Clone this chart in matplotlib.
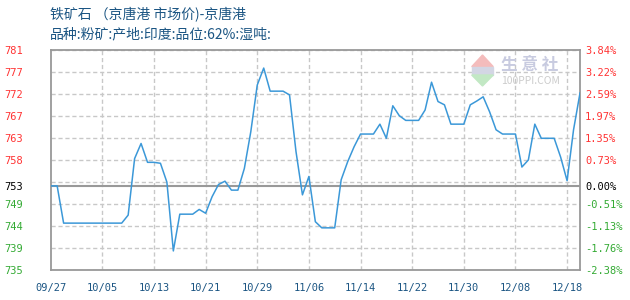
import matplotlib
matplotlib.use('Agg')
import matplotlib.pyplot as plt
import numpy as np
from matplotlib.patches import Polygon, Rectangle

plt.rcParams['font.family'] = ['Noto Sans CJK SC', 'DejaVu Sans']

title = "铁矿石 （京唐港 市场价)-京唐港"
subtitle = "品种:粉矿:产地:印度:品位:62%:湿吨:"

x_labels = ['09/27', '10/05', '10/13', '10/21', '10/29', '11/06',
            '11/14', '11/22', '11/30', '12/08', '12/18']
x_label_step = 8

base_price = 752.5
prices = [
    752.5, 752.5, 744.6, 744.6, 744.6, 744.6, 744.6, 744.6, 744.6, 744.6,   # 0-9
    744.6, 744.6, 746.3, 758.3, 761.5, 757.5, 757.5, 757.3, 753.3, 738.7,   # 10-19
    746.5, 746.5, 746.5, 747.5, 746.7, 750.2, 752.8, 753.5, 751.6, 751.6,   # 20-29
    756.2, 764.0, 773.9, 777.5, 772.6, 772.6, 772.6, 771.8, 759.8, 750.6,   # 30-39
    754.5, 744.9, 743.6, 743.6, 743.6, 753.8, 757.6, 760.8, 763.5, 763.5,   # 40-49
    763.5, 765.6, 762.6, 769.5, 767.4, 766.4, 766.4, 766.4, 768.6, 774.5,   # 50-59
    770.4, 769.7, 765.6, 765.6, 765.6, 769.7, 770.5, 771.4, 768.2, 764.4,   # 60-69
    763.5, 763.5, 763.5, 756.5, 758.0, 765.6, 762.6, 762.6, 762.6, 758.6,   # 70-79
    753.6, 764.4, 772.2                                                     # 80-82
]

left_labels = ['735', '739', '744', '749', '753', '758', '763', '767', '772', '777', '781']
right_labels = ['-2.38%', '-1.76%', '-1.13%', '-0.51%', '0.00%', '0.73%',
                '1.35%', '1.97%', '2.59%', '3.22%', '3.84%']
pct_min, pct_max = -2.38, 3.84

RED = '#ff3333'
GREEN = '#33aa33'
BLUE_TXT = '#1b5583'
LINE = '#3b98d8'
GRID = '#c8c8c8'
SPINE = '#999999'

fig = plt.figure(figsize=(6.3, 3.0), dpi=100)
fig.patch.set_facecolor('white')
ax = fig.add_axes([50.7/630, 1-270.3/300, (580-50.7)/630, (270.3-49.7)/300])

n = len(prices)
x = np.arange(n)
ymin = base_price * (1 + pct_min/100)
ymax = base_price * (1 + pct_max/100)
levels = np.linspace(ymin, ymax, len(left_labels))
tick_pos = levels.copy()
base_idx = right_labels.index('0.00%')
tick_pos[base_idx] = base_price

ax.set_xlim(0, n-1)
ax.set_ylim(ymin, ymax)

# grid
for lv in levels:
    ax.axhline(lv, color=GRID, lw=1, ls=(0, (3, 2)), zorder=1)
xt = np.arange(0, n, x_label_step)[:len(x_labels)]
for xv in xt[1:]:
    ax.axvline(xv, color=GRID, lw=1, ls=(0, (3, 2)), zorder=1)
ax.axhline(base_price, color=SPINE, lw=1.5, zorder=2)

ax.plot(x, prices, color=LINE, lw=1.1, zorder=3)

for s in ax.spines.values():
    s.set_color(SPINE)
    s.set_linewidth(1.3)

def lab_color(i):
    if i > base_idx:
        return RED
    if i < base_idx:
        return GREEN
    return 'black'

ax.set_yticks(tick_pos)
ax.set_yticklabels(left_labels, family='DejaVu Sans Mono', fontsize=7.5)
for i, t in enumerate(ax.get_yticklabels()):
    t.set_color(lab_color(i))
ax.tick_params(axis='y', length=0, pad=20)

ax.set_xticks(xt)
ax.set_xticklabels(x_labels, family='DejaVu Sans Mono', fontsize=7.5, color=BLUE_TXT)
ax.tick_params(axis='x', length=0, pad=9)

ax2 = ax.twinx()
ax2.set_ylim(ymin, ymax)
ax2.set_yticks(tick_pos)
ax2.set_yticklabels(right_labels, family='DejaVu Sans Mono', fontsize=7.5)
for i, t in enumerate(ax2.get_yticklabels()):
    t.set_color(lab_color(i))
ax2.tick_params(axis='y', length=0, pad=3.6)
for s in ax2.spines.values():
    s.set_visible(False)

# titles
fig.text(50/630, 1-15/300, title, fontsize=10, color=BLUE_TXT, va='center', ha='left')
fig.text(50/630, 1-34/300, subtitle, fontsize=10, color=BLUE_TXT, va='center', ha='left')

# watermark
def fx(px):
    return px/630
def fy(py):
    return 1-py/300
fig.patches.append(Polygon([(fx(471.7), fy(66.7)), (fx(493.3), fy(66.7)), (fx(482.5), fy(55))],
                           closed=True, transform=fig.transFigure, color='#f4bcbc', zorder=0))
fig.patches.append(Rectangle((fx(471.7), fy(75)), fx(493.3)-fx(471.7), fy(66.7)-fy(75),
                             transform=fig.transFigure, color='#d3d6e4', zorder=0))
fig.patches.append(Polygon([(fx(471.7), fy(75)), (fx(493.3), fy(75)), (fx(482.5), fy(86))],
                           closed=True, transform=fig.transFigure, color='#c2e8c4', zorder=0))
fig.text(fx(501), fy(65.5), '生 意 社', fontsize=12, color='#c8cbe0', va='center', ha='left',
         fontweight='bold', zorder=0)
fig.text(fx(501), fy(80.5), '100PPI.COM', fontsize=7.5, color='#cccccc', va='center', ha='left', zorder=0)

fig.savefig('out.png', dpi=100, facecolor='white')
